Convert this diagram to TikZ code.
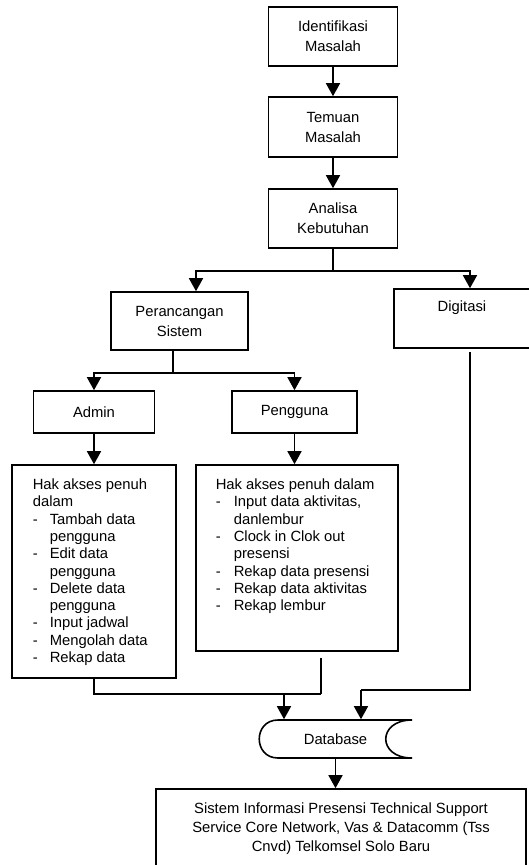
\documentclass[tikz,border=0pt]{standalone}
\usepackage{fontspec}
\setmainfont{Liberation Sans}
\usetikzlibrary{arrows.meta}
\newcommand\dashitem[2][17pt]{\makebox[#1][l]{-}#2}
\newcommand\dashcont[2][17pt]{\hspace*{#1}#2}
\begin{document}
\begin{tikzpicture}[x=1pt,y=-1pt,
  line width=1.6pt,
  box/.style={draw, rectangle, inner sep=0pt, line width=1.6pt},
  lbl/.style={font=\fontsize{14.8pt}{20pt}\selectfont, align=center, inner sep=0pt},
  lst/.style={font=\fontsize{14.8pt}{17.3pt}\selectfont, align=left, inner sep=0pt, anchor=north west},
  arr/.style={-{Triangle[width=14pt,length=13pt]}}]
\useasboundingbox (0,0) rectangle (529,865);
\clip (0,0) rectangle (529,865);

% boxes
\node[box, lbl, minimum width=129pt, minimum height=59pt] (iden) at (333,36.5) {Identifikasi\\Masalah};
\node[box, lbl, minimum width=129pt, minimum height=60pt] (temu) at (333,127) {Temuan\\Masalah};
\node[box, lbl, minimum width=129pt, minimum height=59pt] (anal) at (333,218.5) {Analisa\\Kebutuhan};
\node[box, lbl, minimum width=137pt, minimum height=58pt] (peran) at (179.5,321) {Perancangan\\Sistem};
\node[box, minimum width=137pt, minimum height=59pt] (digi) at (462.5,318.5) {};
\node[lbl] (digitxt) at (462,308) {Digitasi};
\node[box, lbl, minimum width=121pt, minimum height=42pt] (admin) at (94,412) {Admin};
\node[box, lbl, minimum width=125pt, minimum height=42pt] (peng) at (294.5,412) {Pengguna};
\node[box, minimum width=164pt, minimum height=213pt] (hak1) at (94,571.5) {};
\node[box, minimum width=202pt, minimum height=186pt] (hak2) at (297,558) {};
\node[lst] (hak1txt) at (32,478) {Hak akses penuh\\dalam\\\dashitem{Tambah data}\\\dashcont{pengguna}\\\dashitem{Edit data}\\\dashcont{pengguna}\\\dashitem{Delete data}\\\dashcont{pengguna}\\\dashitem{Input jadwal}\\\dashitem{Mengolah data}\\\dashitem{Rekap data}};
\node[lst] (hak2txt) at (215,478) {Hak akses penuh dalam\\\dashitem[18pt]{Input data aktivitas,}\\\dashcont[18pt]{danlembur}\\\dashitem[18pt]{Clock in Clok out}\\\dashcont[18pt]{presensi}\\\dashitem[18pt]{Rekap data presensi}\\\dashitem[18pt]{Rekap data aktivitas}\\\dashitem[18pt]{Rekap lembur}};

% database
\node[lbl, minimum width=153pt, minimum height=38pt] (db) at (335.5,739) {Database};
\draw (278,720) -- (412,720) .. controls (377,720) and (377,758) .. (412,758) -- (278,758) .. controls (253,758) and (253,720) .. (278,720) -- cycle;

\node[box, minimum width=370pt, minimum height=111pt] (sis) at (341,844.5) {};
\node[lbl, font=\fontsize{14.8pt}{19pt}\selectfont] (sistxt) at (341,829) {Sistem Informasi Presensi Technical Support\\Service Core Network, Vas \& Datacomm (Tss\\Cnvd) Telkomsel Solo Baru};

% connectors
\draw[arr] (iden) -- (temu);
\draw[arr] (temu) -- (anal);
\coordinate (j1) at (333,271);
\draw (anal.south) -- (j1);
\draw[arr] (j1) -| ([xshift=16.5pt]peran.north);
\draw[arr] (j1) -| ([xshift=7.5pt]digi.north);
\coordinate (j2) at (173,373);
\draw ([xshift=-6.5pt]peran.south) -- (j2);
\draw[arr] (j2) -| (admin.north);
\draw[arr] (j2) -| (peng.north);
\draw[arr] (admin.south) -- (admin.south |- hak1.north);
\draw[arr] (peng.south) -- (peng.south |- hak2.north);

\coordinate (j3) at (284,694);
\coordinate (j3r) at (321,694);
\draw (hak1.south) |- (j3r);
\draw ([xshift=24pt,yshift=-6pt]hak2.south) -- (j3r);
\draw[arr] (j3) -- (j3 |- db.north);

\coordinate (j4) at (470,690);
\coordinate (j5) at (361,690);
\draw ([yshift=-3pt]digi.south -| j4) -- (j4) -- (j5);
\draw[arr] (j5) -- (j5 |- db.north);

\draw[arr] (db.south) -- (db.south |- sis.north);
\end{tikzpicture}
\end{document}
